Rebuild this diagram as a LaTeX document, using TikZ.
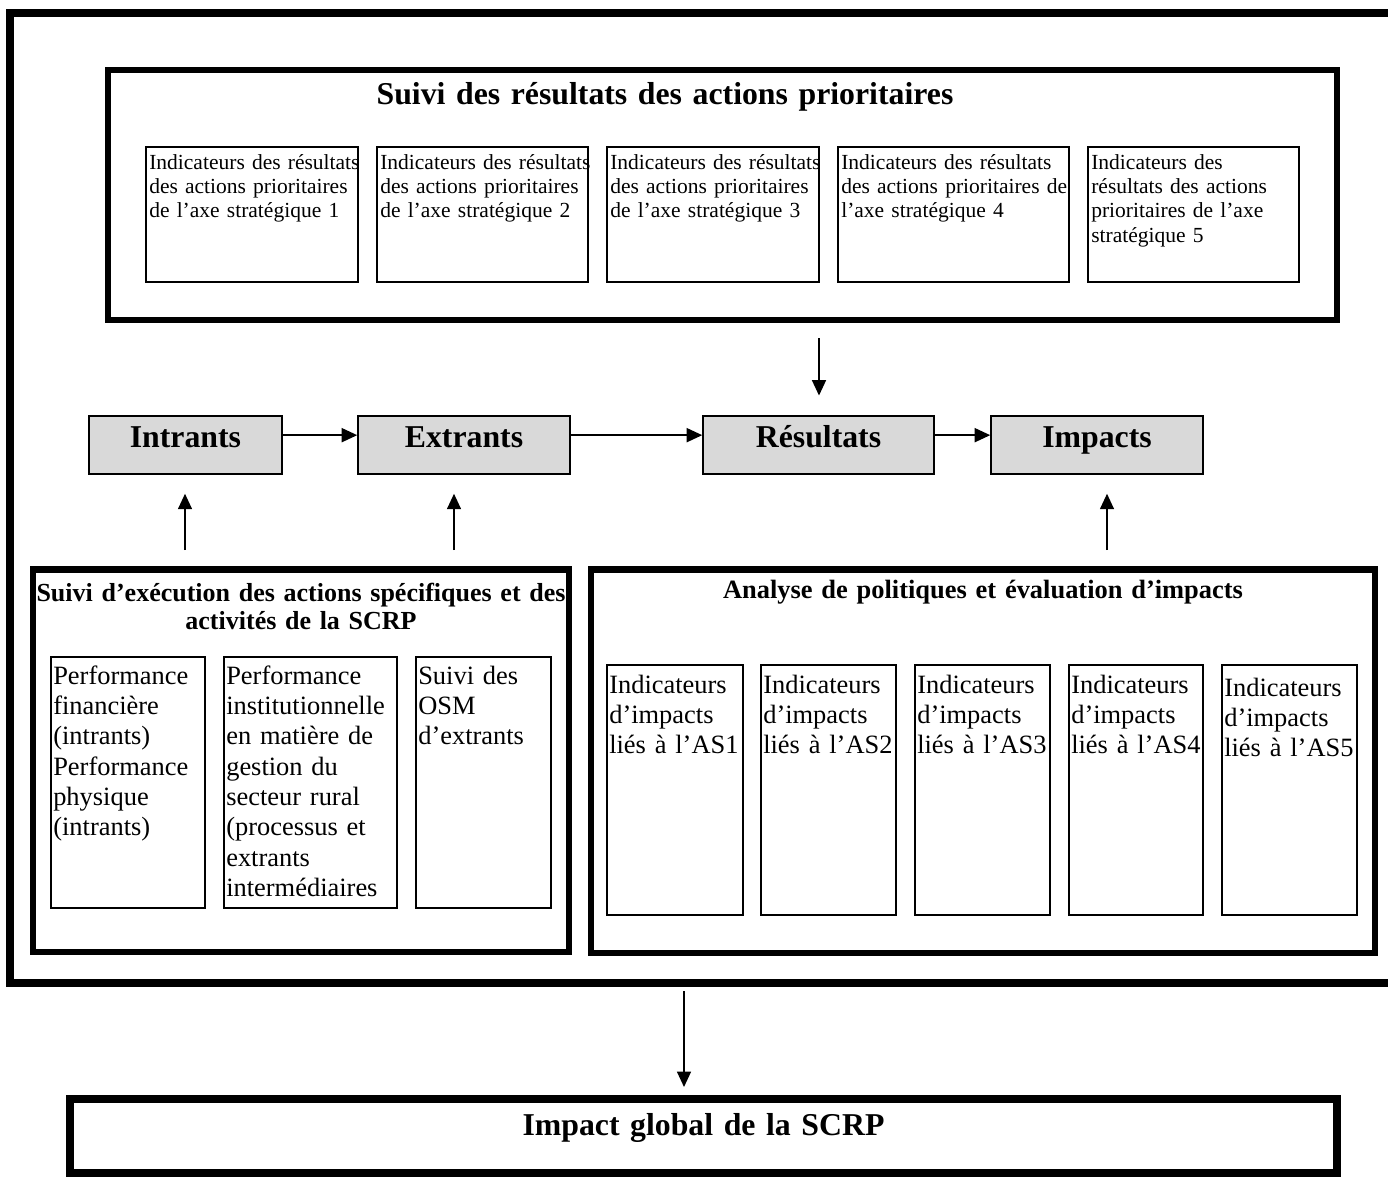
\documentclass[tikz,border=0pt]{standalone}
\usepackage{fontspec}
\setmainfont{Liberation Serif}
\usetikzlibrary{arrows.meta}

\definecolor{stagegray}{RGB}{217,217,217}

\begin{document}
\begin{tikzpicture}[
    x = 0.025cm, y = -0.025cm,
    line join=miter,
    outerframe/.style = {line width=5.7pt},
    subframe/.style = {line width=4.3pt},
    indbox/.style = {line width=1.1pt},
    stage/.style = {draw, line width=1.1pt, fill=stagegray, minimum height=1.45cm, inner sep=0pt,
        font=\fontsize{22.6}{26}\selectfont\bfseries, text height=0.62em, text depth=0.3em},
    headtext/.style = {anchor=base, inner sep=0pt, text width=16cm, align=center},
    smalltext/.style = {anchor=base west, inner sep=0pt, text width=8cm, align=left,
        font=\fontsize{15.3}{17.4}\selectfont},
    bigtext/.style = {anchor=base west, inner sep=0pt, text width=8cm, align=left,
        font=\fontsize{18.8}{21.6}\selectfont},
    flow/.style = {-{Triangle[length=11pt, width=10pt]}, line width=1pt}
]
    \useasboundingbox (0,0) rectangle (1388,1177);
    \clip (0,0) rectangle (1388,1177);

    \draw[outerframe] (10,13) rectangle (1396,983);

    % suivi des resultats
    \draw[subframe] (108,70) rectangle (1337,320);
    \node[headtext, font=\fontsize{22.6}{26}\selectfont\bfseries] (suivires) at (665,104)
        {Suivi des résultats des actions prioritaires};

    \foreach \a/\b/\txt [count=\i] in {
        146/358/{Indicateurs des résultats\\des actions prioritaires\\de l’axe stratégique 1},
        377/588/{Indicateurs des résultats\\des actions prioritaires\\de l’axe stratégique 2},
        607/819/{Indicateurs des résultats\\des actions prioritaires\\de l’axe stratégique 3},
        838/1069/{Indicateurs des résultats\\des actions prioritaires de\\l’axe stratégique 4},
        1088/1299/{Indicateurs des\\résultats des actions\\prioritaires de l’axe\\stratégique 5}} {
        \draw[indbox] (\a,147) rectangle (\b,282);
        \node[smalltext] (res\i) at (\a+3,169) {\txt};
    }

    % chaine
    \node[stage, minimum width=4.825cm] (intrants) at (185.5,445) {Intrants};
    \node[stage, minimum width=5.3cm] (extrants) at (464,445) {Extrants};
    \node[stage, minimum width=5.775cm] (resultats) at (818.5,445) {Résultats};
    \node[stage, minimum width=5.3cm] (impacts) at (1097,445) {Impacts};

    \draw[flow] ([yshift=7pt]intrants.east) -- ([yshift=7pt]extrants.west);
    \draw[flow] ([yshift=7pt]extrants.east) -- ([yshift=7pt]resultats.west);
    \draw[flow] ([yshift=7pt]resultats.east) -- ([yshift=7pt]impacts.west);

    \coordinate (resin) at (819,338);
    \coordinate (intin) at (185,550);
    \coordinate (extin) at (454,550);
    \coordinate (impin) at (1107,550);

    \draw[flow, shorten >=14pt] (resin) -- (resin |- resultats.north);
    \draw[flow, shorten >=13.5pt] (intin) -- (intin |- intrants.south);
    \draw[flow, shorten >=13.5pt] (extin) -- (extin |- extrants.south);
    \draw[flow, shorten >=13.5pt] (impin) -- (impin |- impacts.south);

    % suivi d'execution
    \draw[subframe] (33,569.5) rectangle (569,952);
    \node[headtext, font=\fontsize{18.5}{20.6}\selectfont\bfseries] (suiviexec) at (301,601)
        {Suivi d’exécution des actions spécifiques et des\\activités de la SCRP};

    \foreach \a/\b/\txt [count=\i] in {
        51/205/{Performance\\financière\\(intrants)\\Performance\\physique\\(intrants)},
        224/397/{Performance\\institutionnelle\\en matière de\\gestion du\\secteur rural\\(processus et\\extrants\\intermédiaires},
        416/551/{Suivi des\\OSM\\d’extrants}} {
        \draw[indbox] (\a,657) rectangle (\b,908);
        \node[bigtext] (perf\i) at (\a+2,684) {\txt};
    }

    % analyse
    \draw[subframe] (591,569.5) rectangle (1375,953);
    \node[headtext, font=\fontsize{18.8}{20.6}\selectfont\bfseries] (analyse) at (983,598)
        {Analyse de politiques et évaluation d’impacts};

    \foreach \a/\b/\yb [count=\i] in {607/743/693, 761/896/693, 915/1050/693, 1069/1203/693, 1222/1357/696} {
        \draw[indbox] (\a,665) rectangle (\b,915);
        \node[bigtext] (imp\i) at (\a+2,\yb) {Indicateurs\\d’impacts\\liés à l’AS\i};
    }

    % impact global
    \coordinate (globin) at (684,991);
    \coordinate (globout) at (684,1087);
    \draw[flow] (globin) -- (globout);

    \draw[outerframe] (70,1099) rectangle (1337,1173);
    \node[headtext, font=\fontsize{22.6}{26}\selectfont\bfseries] (global) at (703.5,1135)
        {Impact global de la SCRP};

\end{tikzpicture}
\end{document}
